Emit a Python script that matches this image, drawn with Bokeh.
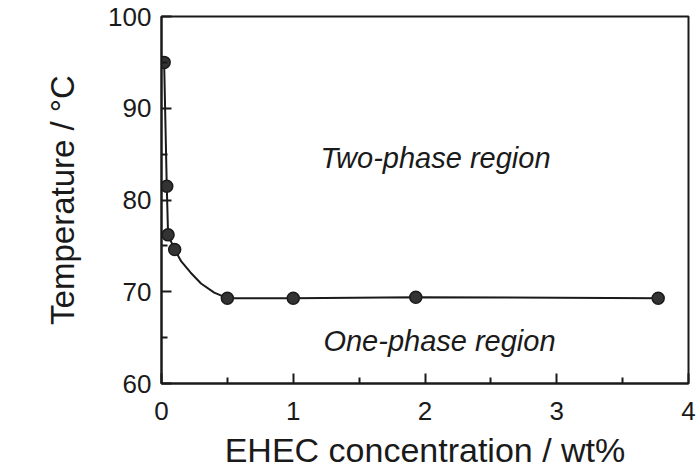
from bokeh.plotting import figure
from bokeh.models import Range1d, FixedTicker, Label
from bokeh.embed import file_html
from bokeh.resources import INLINE

# measured cloud points
conc = [0.02, 0.04, 0.05, 0.10, 0.50, 1.00, 1.93, 3.77]
temp = [95.0, 81.5, 76.2, 74.6, 69.3, 69.3, 69.4, 69.3]

# hand-drawn guide curve
curve_x = [0.02, 0.04, 0.05, 0.10, 0.15, 0.22, 0.30, 0.40, 0.50, 1.00, 1.93, 3.77]
curve_y = [95.0, 81.5, 76.2, 74.6, 73.3, 72.1, 70.9, 69.9, 69.3, 69.3, 69.4, 69.3]

x_ticks = [0, 1, 2, 3, 4]
x_minor = [0.5, 1.5, 2.5, 3.5]
y_ticks = [60, 70, 80, 90, 100]
y_minor = [65, 75, 85, 95]

FONT = "Liberation Sans"
INK = "#1a1a1a"

p = figure(width=697, height=473, output_backend="svg", toolbar_location=None,
           x_range=Range1d(0, 4), y_range=Range1d(60, 100),
           min_border_left=161, min_border_right=9, min_border_top=16,
           min_border_bottom=90)
p.background_fill_color = "white"
p.border_fill_color = "white"
p.outline_line_color = INK
p.outline_line_width = 2
p.xgrid.visible = False
p.ygrid.visible = False

p.line(curve_x, curve_y, line_color=INK, line_width=2)
p.scatter(conc, temp, size=12, fill_color="#333333", line_color=INK, line_width=1.5)

for ax in (p.xaxis[0], p.yaxis[0]):
    ax.axis_line_color = INK
    ax.axis_line_width = 2
    ax.major_tick_line_color = INK
    ax.major_tick_line_width = 2
    ax.minor_tick_line_color = INK
    ax.minor_tick_line_width = 2
    ax.major_tick_out = 0
    ax.minor_tick_out = 0
    ax.major_tick_in = 10
    ax.minor_tick_in = 6
    ax.major_label_text_font = FONT
    ax.major_label_text_font_size = "26px"
    ax.major_label_text_color = INK
    ax.axis_label_text_font = FONT
    ax.axis_label_text_font_style = "normal"
    ax.axis_label_text_color = INK

p.xaxis[0].ticker = FixedTicker(ticks=x_ticks, minor_ticks=x_minor)
p.yaxis[0].ticker = FixedTicker(ticks=y_ticks, minor_ticks=y_minor)
p.xaxis[0].axis_label = "EHEC concentration / wt%"
p.yaxis[0].axis_label = "Temperature / °C"
p.xaxis[0].axis_label_text_font_size = "34px"
p.yaxis[0].axis_label_text_font_size = "33px"
p.xaxis[0].major_label_standoff = 18
p.xaxis[0].axis_label_standoff = 8
p.yaxis[0].major_label_standoff = 10
p.yaxis[0].axis_label_standoff = 24

p.add_layout(Label(x=2.08, y=84.6, text="Two-phase region", text_font=FONT,
                   text_font_size="29px", text_font_style="italic",
                   text_color=INK, text_align="center", text_baseline="middle"))
p.add_layout(Label(x=2.11, y=64.6, text="One-phase region", text_font=FONT,
                   text_font_size="29px", text_font_style="italic",
                   text_color=INK, text_align="center", text_baseline="middle"))

open("out.html", "w").write(file_html(p, INLINE))
